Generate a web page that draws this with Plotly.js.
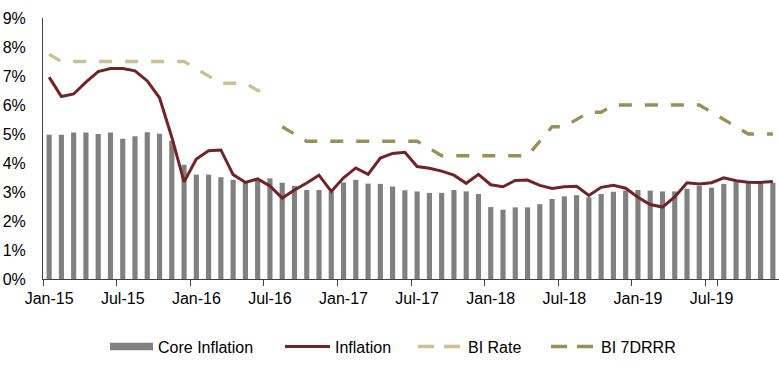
<!DOCTYPE html>
<html>
<head>
<meta charset="utf-8">
<script src="https://cdn.plot.ly/plotly-3.0.1.min.js"></script>
<style>html,body{margin:0;padding:0;background:#fff;}#chart{width:779px;height:370px;}</style>
</head>
<body>
<div id="chart"></div>
<script>
// Month category labels (Jan-15 .. Dec-19)
const monthNames = ['Jan','Feb','Mar','Apr','May','Jun','Jul','Aug','Sep','Oct','Nov','Dec'];
const yearLabels = ['15','16','17','18','19'];
const months = [];
yearLabels.forEach(y => monthNames.forEach(m => months.push(m + '-' + y)));

const tickLabels = ['Jan-15','Jul-15','Jan-16','Jul-16','Jan-17','Jul-17','Jan-18','Jul-18','Jan-19','Jul-19'];

// Core inflation (% yoy), Jan-15 .. Dec-19
const coreInflation = [
  4.97, 4.97, 5.05, 5.05, 5.00, 5.05, 4.84, 4.92, 5.06, 5.01, 4.77, 3.94,
  3.60, 3.60, 3.51, 3.42, 3.33, 3.43, 3.47, 3.32, 3.21, 3.07, 3.07, 3.02,
  3.33, 3.42, 3.29, 3.28, 3.19, 3.06, 3.02, 2.97, 2.97, 3.07, 3.02, 2.93,
  2.48, 2.39, 2.47, 2.47, 2.58, 2.76, 2.85, 2.89, 2.82, 2.93, 3.01, 3.05,
  3.07, 3.05, 3.02, 3.02, 3.11, 3.21, 3.15, 3.28, 3.34, 3.32, 3.30, 3.32
];

// Headline inflation (% yoy), Jan-15 .. Dec-19
const inflation = [
  6.96, 6.29, 6.38, 6.79, 7.15, 7.26, 7.26, 7.18, 6.83, 6.25, 4.89, 3.35,
  4.14, 4.42, 4.45, 3.60, 3.33, 3.45, 3.21, 2.79, 3.07, 3.31, 3.58, 3.02,
  3.49, 3.83, 3.61, 4.17, 4.33, 4.37, 3.88, 3.82, 3.72, 3.58, 3.30, 3.61,
  3.25, 3.18, 3.40, 3.41, 3.23, 3.12, 3.18, 3.20, 2.88, 3.16, 3.23, 3.13,
  2.82, 2.57, 2.48, 2.83, 3.32, 3.28, 3.32, 3.49, 3.39, 3.34, 3.33, 3.36
];

// BI Rate, Jan-15 .. Jul-16
const biRateMonths = months.slice(0, 19);
const biRate = [
  7.75, 7.50, 7.50, 7.50, 7.50, 7.50, 7.50, 7.50, 7.50, 7.50, 7.50, 7.50,
  7.25, 7.00, 6.75, 6.75, 6.75, 6.50, 6.50
];

// BI 7-Day Reverse Repo Rate, Aug-16 .. Dec-19
const bi7drrrMonths = months.slice(19);
const bi7drrr = [
  5.25, 5.00, 4.75, 4.75, 4.75,
  4.75, 4.75, 4.75, 4.75, 4.75, 4.75, 4.75, 4.50, 4.25, 4.25, 4.25, 4.25,
  4.25, 4.25, 4.25, 4.25, 4.75, 5.25, 5.25, 5.50, 5.75, 5.75, 6.00, 6.00,
  6.00, 6.00, 6.00, 6.00, 6.00, 6.00, 5.75, 5.50, 5.25, 5.00, 5.00, 5.00
];

const FONT = 'Liberation Sans, Arial, sans-serif';
const AXIS = '#404040';
const C_CORE = '#808080', C_INF = '#722424', C_BI = '#CBC194', C_7D = '#9C8E57';

const traces = [
  {type: 'bar', name: 'Core Inflation', x: months, y: coreInflation, marker: {color: C_CORE}},
  {type: 'scatter', mode: 'lines', name: 'Inflation', x: months, y: inflation,
   line: {color: C_INF, width: 3}},
  {type: 'scatter', mode: 'lines', name: 'BI Rate', x: biRateMonths, y: biRate,
   line: {color: C_BI, width: 3.3, dash: '13px,13px'}},
  {type: 'scatter', mode: 'lines', name: 'BI 7DRRR', x: bi7drrrMonths, y: bi7drrr,
   line: {color: C_7D, width: 3.3, dash: '13px,13px'}}
];

// Legend drawn in pixel space, converted to paper coordinates
const W = 779, H = 370, ML = 43, MR = 0, MT = 18, MB = 91;
const PW = W - ML - MR, PH = H - MT - MB;
const px = v => (v - ML) / PW;
const py = v => (H - MB - v) / PH;
const legY = 346.5;
const legendItems = [
  {kind: 'box',  x0: 110, x1: 153, tx: 156, color: C_CORE, name: traces[0].name},
  {kind: 'line', x0: 285, x1: 330, tx: 333, color: C_INF,  name: traces[1].name},
  {kind: 'dash', x0: 418, x1: 461, tx: 466, color: C_BI,   name: traces[2].name},
  {kind: 'dash', x0: 551, x1: 594, tx: 599, color: C_7D,   name: traces[3].name}
];
const shapes = [], annotations = [];
legendItems.forEach(it => {
  if (it.kind === 'box') {
    shapes.push({type: 'rect', xref: 'paper', yref: 'paper',
      x0: px(it.x0), x1: px(it.x1), y0: py(legY - 3.7), y1: py(legY + 3.7),
      fillcolor: it.color, line: {width: 0}});
  } else {
    shapes.push({type: 'line', xref: 'paper', yref: 'paper',
      x0: px(it.x0), x1: px(it.x1), y0: py(legY), y1: py(legY),
      line: {color: it.color, width: it.kind === 'line' ? 3 : 3.3,
             dash: it.kind === 'dash' ? '16px,10px' : 'solid'}});
  }
  annotations.push({xref: 'paper', yref: 'paper', x: px(it.tx), y: py(legY + 1),
    xanchor: 'left', yanchor: 'middle', showarrow: false, text: it.name,
    font: {family: FONT, size: 16, color: '#000000'}});
});

const layout = {
  width: W, height: H,
  margin: {l: ML, r: MR, t: MT, b: MB, pad: 0},
  paper_bgcolor: '#ffffff', plot_bgcolor: '#ffffff',
  font: {family: FONT, size: 16, color: '#000000'},
  bargap: 0.58,
  showlegend: false,
  shapes: shapes,
  annotations: annotations,
  xaxis: {
    type: 'category', categoryorder: 'array', categoryarray: months,
    range: [-0.5, 59.5], tickson: 'boundaries',
    tickmode: 'array', tickvals: tickLabels, ticktext: tickLabels, tickangle: 0,
    ticks: 'outside', ticklen: 6, tickcolor: AXIS, tickwidth: 1,
    ticklabelstandoff: 5,
    showline: true, linecolor: AXIS, linewidth: 1,
    showgrid: false, zeroline: false,
    tickfont: {family: FONT, size: 16, color: '#000000'}
  },
  yaxis: {
    range: [0, 9], dtick: 1, tick0: 0, ticksuffix: '%',
    ticks: 'outside', ticklen: 13, tickcolor: 'rgba(0,0,0,0)',
    showline: true, linecolor: AXIS, linewidth: 1,
    showgrid: false, zeroline: false,
    tickfont: {family: FONT, size: 16, color: '#000000'}
  }
};

Plotly.newPlot('chart', traces, layout, {displayModeBar: false, staticPlot: true});
</script>
</body>
</html>
